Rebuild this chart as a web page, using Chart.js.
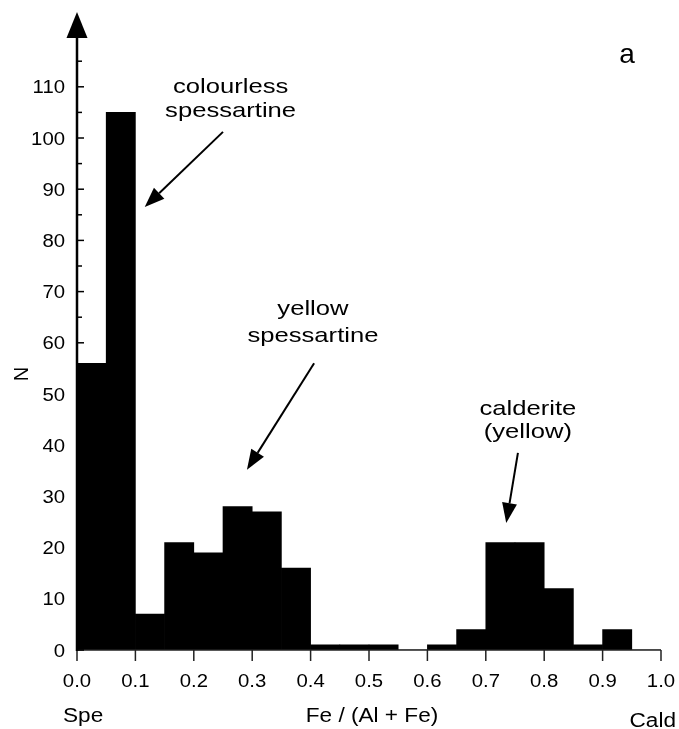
<!DOCTYPE html>
<html>
<head>
<meta charset="utf-8">
<script src="https://cdn.jsdelivr.net/npm/chart.js@4.4.1/dist/chart.umd.min.js"></script>
<style>
  html, body { margin: 0; padding: 0; background: #fff; }
  #wrap { width: 679px; height: 729px; }
</style>
</head>
<body>
<div id="wrap"><canvas id="histChart" width="679" height="729"></canvas></div>
<script>
// bins of Fe / (Al + Fe), width 0.05 (left edges)
const binLeft = [0.00, 0.05, 0.10, 0.15, 0.20, 0.25, 0.30, 0.35, 0.40, 0.45,
                 0.50, 0.55, 0.60, 0.65, 0.70, 0.75, 0.80, 0.85, 0.90, 0.95];
const binWidth = 0.05;
const counts = [56, 105, 7, 21, 19, 28, 27, 16, 1, 1,
                1, 0, 1, 4, 21, 21, 12, 1, 4, 0];

const xTickValues = [0.0, 0.1, 0.2, 0.3, 0.4, 0.5, 0.6, 0.7, 0.8, 0.9, 1.0];
const yTickValues = [0, 10, 20, 30, 40, 50, 60, 70, 80, 90, 100, 110];
const yMinorValues = [5, 15, 25, 35, 45, 55, 65, 75, 85, 95, 105, 115];

// annotations: text lines and arrows, in data units
const notes = [
    { lines: ['colourless', 'spessartine'], x: 0.263, y: [108.8, 104.1], from: [0.250, 101.2], to: [0.116, 86.5] },
    { lines: ['yellow', 'spessartine'], x: 0.404, y: [65.4, 60.2], from: [0.406, 56.0], to: [0.291, 35.2] },
    { lines: ['calderite', '(yellow)'], x: 0.772, y: [45.9, 41.4], from: [0.755, 38.5], to: [0.735, 24.8] }
];

const FONT = '"Liberation Sans", Arial, Helvetica, sans-serif';

function drawText(ctx, str, x, y, size, align, sx) {
    ctx.save();
    ctx.translate(x, y);
    ctx.scale(sx, 1);
    ctx.font = size + 'px ' + FONT;
    ctx.fillStyle = '#000';
    ctx.textAlign = align;
    ctx.textBaseline = 'alphabetic';
    ctx.fillText(str, 0, 0);
    ctx.restore();
}

function drawArrow(ctx, x1, y1, x2, y2) {
    const ang = Math.atan2(y2 - y1, x2 - x1);
    const headLen = 20, headHalf = 7.5;
    const bx = x2 - headLen * Math.cos(ang);
    const by = y2 - headLen * Math.sin(ang);
    ctx.save();
    ctx.strokeStyle = '#000';
    ctx.lineWidth = 2;
    ctx.beginPath();
    ctx.moveTo(x1, y1);
    ctx.lineTo(bx, by);
    ctx.stroke();
    ctx.fillStyle = '#000';
    ctx.beginPath();
    ctx.moveTo(x2, y2);
    ctx.lineTo(bx + headHalf * Math.sin(ang), by - headHalf * Math.cos(ang));
    ctx.lineTo(bx - headHalf * Math.sin(ang), by + headHalf * Math.cos(ang));
    ctx.closePath();
    ctx.fill();
    ctx.restore();
}

const axesPlugin = {
    id: 'axesPlugin',
    afterDatasetsDraw(chart) {
        const ctx = chart.ctx;
        const xs = chart.scales.x, ys = chart.scales.y;
        const left = chart.chartArea.left, bottom = chart.chartArea.bottom;
        const y0 = ys.getPixelForValue(0);

        ctx.save();
        // x axis line
        ctx.strokeStyle = '#222';
        ctx.lineWidth = 1.5;
        ctx.beginPath();
        ctx.moveTo(left, y0);
        ctx.lineTo(xs.getPixelForValue(1.0), y0);
        ctx.stroke();

        // x ticks (pointing down) + labels
        ctx.lineWidth = 1.5;
        xTickValues.forEach(v => {
            const px = xs.getPixelForValue(v);
            ctx.beginPath();
            ctx.moveTo(px, y0);
            ctx.lineTo(px, y0 + 11);
            ctx.stroke();
            drawText(ctx, v.toFixed(1), px, 687, 18, 'center', 1.13);
        });

        // y axis line with arrow head
        ctx.strokeStyle = '#000';
        ctx.lineWidth = 2.5;
        ctx.beginPath();
        ctx.moveTo(left, y0 + 1);
        ctx.lineTo(left, 36);
        ctx.stroke();
        ctx.fillStyle = '#000';
        ctx.beginPath();
        ctx.moveTo(left, 12);
        ctx.lineTo(left - 10.5, 38);
        ctx.lineTo(left + 10.5, 38);
        ctx.closePath();
        ctx.fill();

        // y ticks (pointing into the plot)
        ctx.lineWidth = 1.5;
        yTickValues.forEach(v => {
            const py = ys.getPixelForValue(v);
            ctx.beginPath();
            ctx.moveTo(left, py);
            ctx.lineTo(left + 7, py);
            ctx.stroke();
            drawText(ctx, String(v), 65, py + 6.5, 18, 'right', 1.13);
        });
        yMinorValues.forEach(v => {
            const py = ys.getPixelForValue(v);
            ctx.beginPath();
            ctx.moveTo(left, py);
            ctx.lineTo(left + 5, py);
            ctx.stroke();
        });

        // axis titles
        drawText(ctx, 'Spe', 63, 722, 20, 'left', 1.13);
        drawText(ctx, 'Fe / (Al + Fe)', 372, 722, 20, 'center', 1.13);
        drawText(ctx, 'Cald', 676, 727, 20, 'right', 1.13);
        ctx.save();
        ctx.translate(28, 374);
        ctx.rotate(-Math.PI / 2);
        drawText(ctx, 'N', 0, 0, 20, 'center', 1);
        ctx.restore();

        // panel letter
        drawText(ctx, 'a', 627, 63, 28, 'center', 1);

        // annotations
        notes.forEach(n => {
            const px = xs.getPixelForValue(n.x);
            n.lines.forEach((t, i) => {
                drawText(ctx, t, px, ys.getPixelForValue(n.y[i]), 21, 'center', 1.22);
            });
            drawArrow(ctx,
                xs.getPixelForValue(n.from[0]), ys.getPixelForValue(n.from[1]),
                xs.getPixelForValue(n.to[0]), ys.getPixelForValue(n.to[1]));
        });
        ctx.restore();
    }
};

const ctx = document.getElementById('histChart').getContext('2d');
const histChart = new Chart(ctx, {
    type: 'bar',
    data: {
        datasets: [{
            label: 'N',
            data: binLeft.map((b, i) => ({ x: b + binWidth / 2, y: counts[i] })),
            backgroundColor: '#000',
            borderWidth: 0,
            barPercentage: 1.0,
            categoryPercentage: 1.0
        }]
    },
    options: {
        responsive: false,
        animation: false,
        layout: { padding: { left: 77, right: 18, top: 35.6, bottom: 79 } },
        plugins: { legend: { display: false }, tooltip: { enabled: false } },
        scales: {
            x: { type: 'linear', min: 0, max: 1, offset: false, display: false },
            y: { type: 'linear', min: 0, max: 120, display: false }
        }
    },
    plugins: [axesPlugin]
});
</script>
</body>
</html>
